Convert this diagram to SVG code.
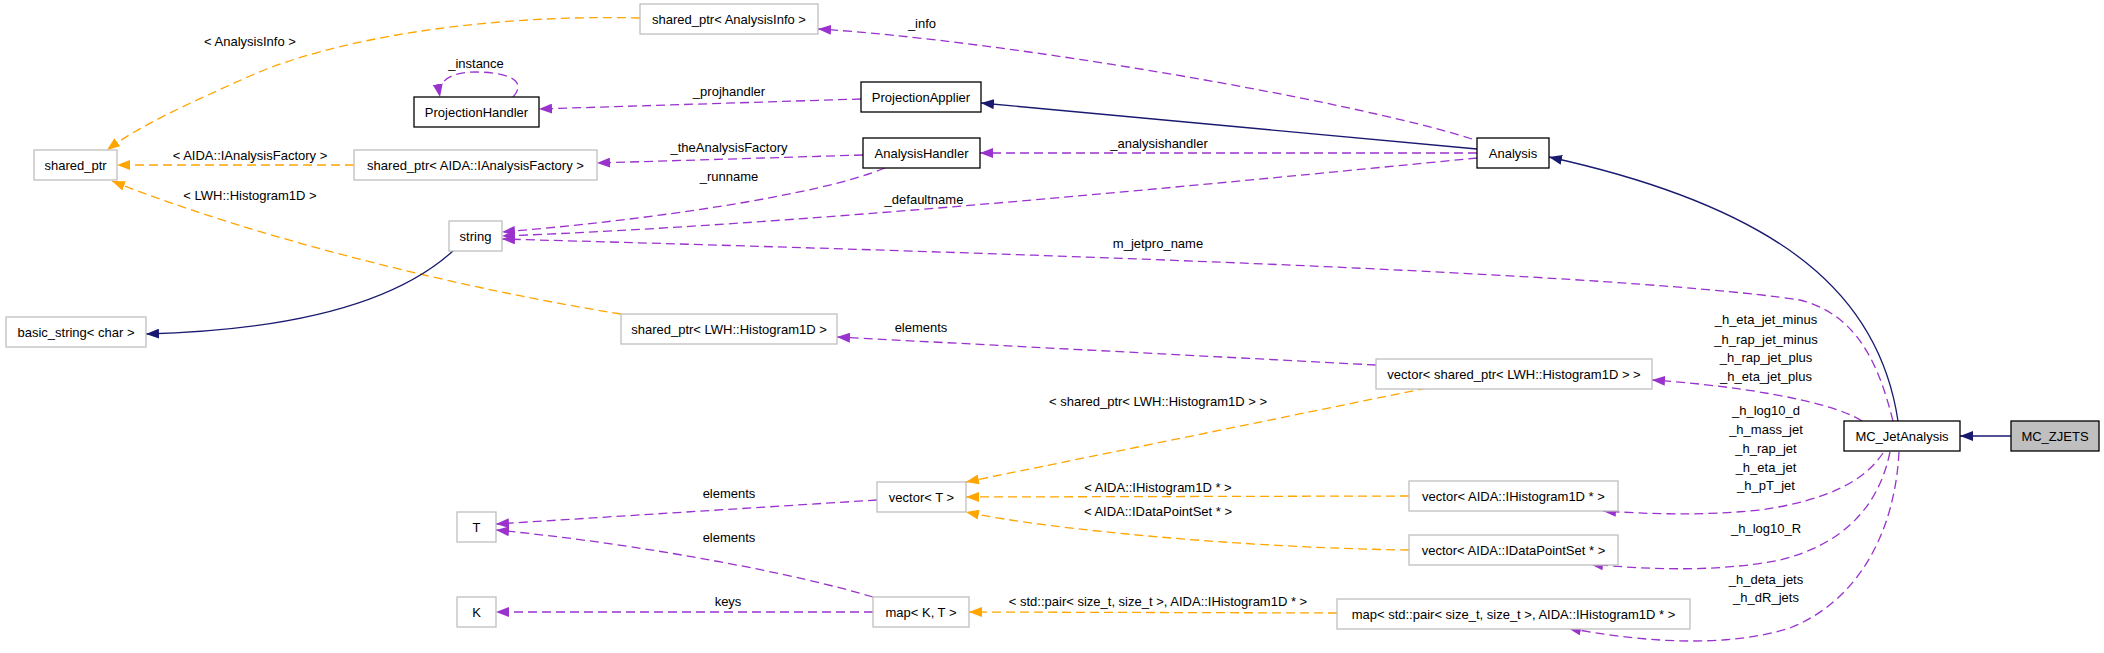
<svg xmlns="http://www.w3.org/2000/svg" width="2104" height="653" viewBox="0 0 2104 653">
<style>
text{font-family:"Liberation Sans",Arial,sans-serif;font-size:13px;fill:#000;text-anchor:middle}
.n rect{fill:#fff;stroke:#bfbfbf;stroke-width:1.3}
.b rect{fill:#fff;stroke:#000;stroke-width:1.3}
.g rect{fill:#bfbfbf;stroke:#000;stroke-width:1.3}
.p{fill:none;stroke:#9a32cd;stroke-width:1.3;stroke-dasharray:9,5;marker-end:url(#ap)}
.o{fill:none;stroke:#ffa500;stroke-width:1.3;stroke-dasharray:9,5;marker-end:url(#ao)}
.s{fill:none;stroke:#191970;stroke-width:1.3;marker-end:url(#an)}
</style>
<defs>
<marker id="ap" viewBox="0 0 13 10" refX="13" refY="5" markerWidth="13" markerHeight="10" markerUnits="userSpaceOnUse" orient="auto"><path d="M0,0 L13,5 L0,10 z" fill="#9a32cd"/></marker>
<marker id="ao" viewBox="0 0 13 10" refX="13" refY="5" markerWidth="13" markerHeight="10" markerUnits="userSpaceOnUse" orient="auto"><path d="M0,0 L13,5 L0,10 z" fill="#ffa500"/></marker>
<marker id="an" viewBox="0 0 13 10" refX="13" refY="5" markerWidth="13" markerHeight="10" markerUnits="userSpaceOnUse" orient="auto"><path d="M0,0 L13,5 L0,10 z" fill="#191970"/></marker>
</defs>
<rect width="2104" height="653" fill="#fff"/>
<g id="connectors">
<path class="o" d="M640,18 C480,14 330,40 250,76 C190,103 140,125 107,150"/>
<path class="o" d="M354,165 L117,165"/>
<path class="o" d="M621,314 C470,290 260,240 112,181"/>
<path class="s" d="M454,250 C400,300 300,330 146,334"/>
<path class="p" d="M513,97 C530,78 500,72 476,72 C452,72 437,80 440,97"/>
<path class="p" d="M861,99 L539,109"/>
<path class="p" d="M863,155 L597,163"/>
<path class="p" d="M885,168 C820,195 650,220 502,232"/>
<path class="p" d="M1477,158 C1200,185 800,225 502,236"/>
<path class="p" d="M1893,421 C1880,370 1860,315 1800,300 C1600,270 900,250 502,239"/>
<path class="p" d="M1477,153 L980,153"/>
<path class="p" d="M1472,139 C1350,100 1000,40 818,29"/>
<path class="s" d="M1477,149 L981,103"/>
<path class="s" d="M1898,421 C1880,300 1790,210 1549,157"/>
<path class="s" d="M2011,436 L1960,436"/>
<path class="p" d="M1376,365 L837,337"/>
<path class="o" d="M1427,388 L966,482"/>
<path class="o" d="M1409,496 L966,497"/>
<path class="o" d="M1409,550 C1250,548 1050,530 966,512"/>
<path class="p" d="M877,500 L496,524"/>
<path class="p" d="M873,597 C800,575 650,545 496,530"/>
<path class="p" d="M873,612 L496,612"/>
<path class="o" d="M1337,613 L969,612"/>
<path class="p" d="M1862,421 C1830,400 1730,385 1652,380"/>
<path class="p" d="M1883,453 C1865,480 1830,500 1760,510 C1700,516 1650,514 1603,511"/>
<path class="p" d="M1890,452 C1878,510 1840,545 1780,560 C1720,572 1650,570 1590,564"/>
<path class="p" d="M1899,452 C1895,530 1860,600 1790,628 C1720,650 1630,640 1568,628"/>
<text x="250" y="46">&lt; AnalysisInfo &gt;</text>
<text x="476" y="68">_instance</text>
<text x="922" y="28">_info</text>
<text x="729" y="96">_projhandler</text>
<text x="729" y="152">_theAnalysisFactory</text>
<text x="250" y="160">&lt; AIDA::IAnalysisFactory &gt;</text>
<text x="1159" y="148">_analysishandler</text>
<text x="729" y="181">_runname</text>
<text x="250" y="200">&lt; LWH::Histogram1D &gt;</text>
<text x="924" y="204">_defaultname</text>
<text x="1158" y="248">m_jetpro_name</text>
<text x="921" y="332">elements</text>
<text x="1766" y="324">_h_eta_jet_minus</text>
<text x="1766" y="344">_h_rap_jet_minus</text>
<text x="1766" y="362">_h_rap_jet_plus</text>
<text x="1766" y="381">_h_eta_jet_plus</text>
<text x="1158" y="406">&lt; shared_ptr&lt; LWH::Histogram1D &gt; &gt;</text>
<text x="1766" y="415">_h_log10_d</text>
<text x="1766" y="434">_h_mass_jet</text>
<text x="1766" y="453">_h_rap_jet</text>
<text x="1766" y="472">_h_eta_jet</text>
<text x="1766" y="490">_h_pT_jet</text>
<text x="1158" y="492">&lt; AIDA::IHistogram1D * &gt;</text>
<text x="729" y="498">elements</text>
<text x="1158" y="516">&lt; AIDA::IDataPointSet * &gt;</text>
<text x="1766" y="533">_h_log10_R</text>
<text x="729" y="542">elements</text>
<text x="1766" y="584">_h_deta_jets</text>
<text x="1766" y="602">_h_dR_jets</text>
<text x="728" y="606">keys</text>
<text x="1158" y="606">&lt; std::pair&lt; size_t, size_t &gt;, AIDA::IHistogram1D * &gt;</text>
</g>
<g id="MC_ZJETS" class="g"><rect x="2011" y="421" width="88" height="30"/><text x="2055" y="441">MC_ZJETS</text></g>
<g id="MC_JetAnalysis" class="b"><rect x="1844" y="421" width="116" height="30"/><text x="1902" y="441">MC_JetAnalysis</text></g>
<g id="Analysis" class="b"><rect x="1477" y="138" width="72" height="30"/><text x="1513" y="158">Analysis</text></g>
<g id="ProjectionApplier" class="b"><rect x="861" y="82" width="120" height="30"/><text x="921" y="102">ProjectionApplier</text></g>
<g id="ProjectionHandler" class="b"><rect x="414" y="97" width="125" height="30"/><text x="476.5" y="117">ProjectionHandler</text></g>
<g id="AnalysisHandler" class="b"><rect x="863" y="138" width="117" height="30"/><text x="921.5" y="158">AnalysisHandler</text></g>
<g id="shared_ptr_AnalysisInfo" class="n"><rect x="640" y="4" width="178" height="30"/><text x="729" y="24">shared_ptr&lt; AnalysisInfo &gt;</text></g>
<g id="shared_ptr" class="n"><rect x="34" y="150" width="83" height="30"/><text x="75.5" y="170">shared_ptr</text></g>
<g id="shared_ptr_IAnalysisFactory" class="n"><rect x="354" y="150" width="243" height="30"/><text x="475.5" y="170">shared_ptr&lt; AIDA::IAnalysisFactory &gt;</text></g>
<g id="string" class="n"><rect x="449" y="221" width="53" height="30"/><text x="475.5" y="241">string</text></g>
<g id="basic_string" class="n"><rect x="6" y="317" width="140" height="30"/><text x="76" y="337">basic_string&lt; char &gt;</text></g>
<g id="shared_ptr_Histogram1D" class="n"><rect x="621" y="314" width="216" height="30"/><text x="729" y="334">shared_ptr&lt; LWH::Histogram1D &gt;</text></g>
<g id="vector_shared_ptr" class="n"><rect x="1376" y="359" width="276" height="30"/><text x="1514" y="379">vector&lt; shared_ptr&lt; LWH::Histogram1D &gt; &gt;</text></g>
<g id="vector_T" class="n"><rect x="877" y="482" width="89" height="30"/><text x="921.5" y="502">vector&lt; T &gt;</text></g>
<g id="vector_IHistogram1D" class="n"><rect x="1409" y="481" width="209" height="30"/><text x="1513.5" y="501">vector&lt; AIDA::IHistogram1D * &gt;</text></g>
<g id="vector_IDataPointSet" class="n"><rect x="1409" y="535" width="209" height="30"/><text x="1513.5" y="555">vector&lt; AIDA::IDataPointSet * &gt;</text></g>
<g id="T" class="n"><rect x="457" y="512" width="39" height="30"/><text x="476.5" y="532">T</text></g>
<g id="K" class="n"><rect x="457" y="597" width="39" height="30"/><text x="476.5" y="617">K</text></g>
<g id="map_K_T" class="n"><rect x="873" y="597" width="96" height="30"/><text x="921" y="617">map&lt; K, T &gt;</text></g>
<g id="map_pair" class="n"><rect x="1337" y="599" width="353" height="30"/><text x="1513.5" y="619">map&lt; std::pair&lt; size_t, size_t &gt;, AIDA::IHistogram1D * &gt;</text></g>
</svg>
